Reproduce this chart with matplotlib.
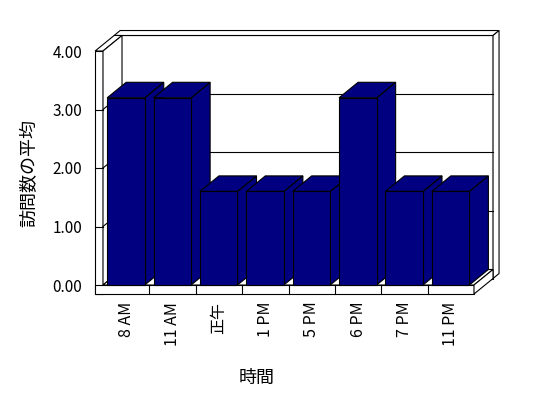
import matplotlib
matplotlib.use("Agg")
import matplotlib.pyplot as plt
from matplotlib.patches import Polygon

plt.rcParams['font.family'] = ['Noto Sans CJK JP', 'DejaVu Sans']

# Données du graphique
categories = ['8 AM', '11 AM', '正午', '1 PM', '5 PM', '6 PM', '7 PM', '11 PM']
values = [3.2, 3.2, 1.6, 1.6, 1.6, 3.2, 1.6, 1.6]
yticks = [0, 1, 2, 3, 4]
ytick_labels = ['0.00', '1.00', '2.00', '3.00', '4.00']
xlabel = '時間'
ylabel = '訪問数の平均'

bar_color = '#000080'
n = len(categories)
ymax = yticks[-1]

fig = plt.figure(figsize=(5.48, 3.98), dpi=100)
ax = fig.add_axes([103 / 548, (398 - 285) / 398, 371 / 548, 234 / 398])
ax.set_xlim(0, n)
ax.set_ylim(0, ymax)

# profondeur 3D (en unités de données)
dx, dy = 0.41, 0.265
t = 0.17     # épaisseur du mur gauche
f = 0.154    # épaisseur du sol
bx, by = 0.13, 0.085  # épaisseur du mur du fond


def face(pts, fc='white', z=1):
    ax.add_patch(Polygon(pts, closed=True, facecolor=fc, edgecolor='black',
                         linewidth=0.8, clip_on=False, zorder=z))


def line(xs, ys, z=2):
    ax.plot(xs, ys, color='black', linewidth=0.8, clip_on=False, zorder=z)


# Mur du fond
face([(-t + dx, -f + dy), (n + dx, -f + dy), (n + dx, ymax + dy), (-t + dx, ymax + dy)])
face([(-t + dx, ymax + dy), (n + dx, ymax + dy), (n + dx + bx, ymax + dy + by), (-t + dx + bx, ymax + dy + by)])
face([(n + dx, ymax + dy), (n + dx, -f + dy), (n + dx + bx, -f + dy + by), (n + dx + bx, ymax + dy + by)])
for y in yticks[1:-1]:
    line([dx, n + dx], [y + dy, y + dy])

# Mur gauche
face([(-t, -f), (0, -f), (0, ymax), (-t, ymax)], z=3)
face([(-t, ymax), (0, ymax), (dx, ymax + dy), (-t + dx, ymax + dy)], z=3)
face([(0, 0), (0, ymax), (dx, ymax + dy), (dx, dy)], z=3)
for y in yticks[1:-1]:
    line([0, dx], [y, y + dy], z=4)
    line([-t, 0], [y, y], z=4)

# Sol
face([(-t, -f), (n, -f), (n, 0), (-t, 0)], z=5)
face([(0, 0), (n, 0), (n + dx, dy), (dx, dy)], z=5)
face([(n, -f), (n, 0), (n + dx, dy), (n + dx, -f + dy)], z=5)
for i in range(1, n):
    line([i, i], [0, -f], z=6)

# Barres
for i, v in enumerate(values):
    x0, x1 = i + 0.09, i + 0.9
    z = 10 + i
    face([(x1, 0), (x1 + dx, dy), (x1 + dx, v + dy), (x1, v)], fc=bar_color, z=z)
    face([(x0, v), (x1, v), (x1 + dx, v + dy), (x0 + dx, v + dy)], fc=bar_color, z=z)
    face([(x0, 0), (x1, 0), (x1, v), (x0, v)], fc=bar_color, z=z)

# Axes et étiquettes
for s in ax.spines.values():
    s.set_visible(False)
ax.set_xticks([i + 0.5 for i in range(n)], categories, rotation=90, fontsize=11.5)
ax.set_yticks(yticks, ytick_labels, fontsize=11)
ax.tick_params(axis='x', length=0, pad=12)
ax.tick_params(axis='y', length=0, pad=15)
for lab in ax.get_xticklabels():
    lab.set_verticalalignment('top')

ax.set_xlabel(xlabel, fontsize=13)
ax.set_ylabel(ylabel, fontsize=13)
ax.xaxis.set_label_coords(0.415, -0.36)
ax.yaxis.set_label_coords(-0.175, 0.479)

fig.savefig('out.png', dpi=100)
